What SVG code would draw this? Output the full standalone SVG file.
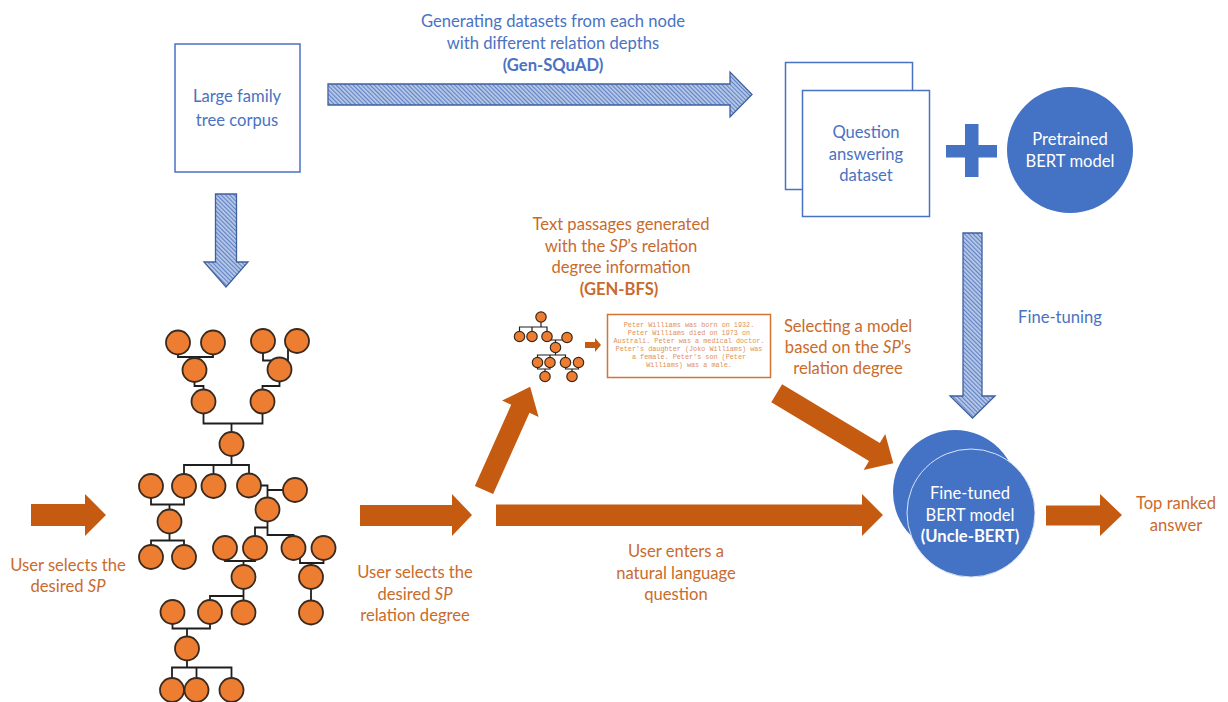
<svg xmlns="http://www.w3.org/2000/svg" width="1228" height="702" viewBox="0 0 1228 702">
<defs>
<pattern id="hatch" patternUnits="userSpaceOnUse" width="3" height="3" patternTransform="rotate(-45)">
<rect width="3" height="3" fill="#B9CBEA"/>
<line x1="0.6" y1="0" x2="0.6" y2="3" stroke="#5B7DC0" stroke-width="1.1"/>
</pattern>
<style>
.t{font-family:Lato,"Open Sans","Liberation Sans",sans-serif;font-size:16.6px;text-anchor:middle}
.blue{fill:#4A72C2}
.or{fill:#C96B2C}
.wh{fill:#FFFFFF}
.b{font-weight:bold}
.box{fill:#FFFFFF;stroke:#4A72C2;stroke-width:1.5}
.hat{fill:url(#hatch);stroke:#3F609E;stroke-width:1.3}
.oarr{fill:#C55A11}
.nd{fill:#ED7D31;stroke:#3A2A1E;stroke-width:1.8}
.sn{fill:#ED7D31;stroke:#3A2A1E;stroke-width:1.2}
.ln{fill:none;stroke:#1E1E1E;stroke-width:1.8}
.sl{fill:none;stroke:#1E1E1E;stroke-width:1.2}
.mono{font-family:"Liberation Mono",monospace;font-size:6.8px;fill:#E0915A;text-anchor:middle}
</style>
</defs>
<rect width="1228" height="702" fill="#FFFFFF"/>

<g id="connectors">
<polygon class="hat" points="328,84 730,84 730,72 752,94.5 730,117 730,105 328,105"/>
<polygon class="hat" points="215.5,194 236.5,194 236.5,262 248,262 226,287 204,262 215.5,262"/>
<polygon class="hat" points="963,233 982,233 982,396 995,396 972.5,418 950,396 963,396"/>
<polygon class="oarr" points="31,504 85,504 85,494 106,515 85,536 85,526 31,526"/>
<polygon class="oarr" points="360,505 452,505 452,494 472,515 452,536 452,526 360,526"/>
<polygon class="oarr" points="496,504.5 862,504.5 862,494 883,515 862,536 862,526 496,526"/>
<polygon class="oarr" points="1046,505.5 1100,505.5 1100,494 1122,515 1100,536 1100,525.5 1046,525.5"/>
<polygon class="oarr" transform="translate(484,490) rotate(-65.9)" points="0,-10 89,-10 89,-20 113,0 89,20 89,10 0,10"/>
<polygon class="oarr" transform="translate(776.7,393.3) rotate(31)" points="0,-10.5 114,-10.5 114,-21 136,0 114,21 114,10.5 0,10.5"/>
<polygon class="oarr" points="585,342 595,342 595,338 601,345 595,352 595,348 585,348"/>
</g>

<g id="label-gen-squad">
<text class="t blue" x="553" y="27">Generating datasets from each node</text>
<text class="t blue" x="553" y="49">with different relation depths</text>
<text class="t blue b" x="553" y="71">(Gen-SQuAD)</text>
</g>

<g id="corpus">
<rect class="box" x="175" y="44" width="125" height="128"/>
<text class="t blue" x="237" y="102">Large family</text>
<text class="t blue" x="237" y="126">tree corpus</text>
</g>

<g id="qa-dataset">
<rect class="box" x="785.5" y="62.5" width="127" height="127"/>
<rect class="box" x="802.5" y="90.5" width="127" height="126"/>
<text class="t blue" x="866" y="138">Question</text>
<text class="t blue" x="866" y="160">answering</text>
<text class="t blue" x="866" y="181">dataset</text>
</g>

<g id="plus">
<rect x="946" y="145" width="51" height="12.5" fill="#4472C4"/>
<rect x="965" y="124" width="13.5" height="53" fill="#4472C4"/>
</g>

<g id="pretrained-bert">
<circle cx="1070" cy="150" r="63" fill="#4472C4"/>
<text class="t wh" x="1070" y="145">Pretrained</text>
<text class="t wh" x="1070" y="167">BERT model</text>
</g>

<g id="label-fine-tuning">
<text class="t blue" x="1060" y="323">Fine-tuning</text>
</g>

<g id="family-tree">
<path class="ln" d="M178,342 V357 H213 V342 M194.5,357 V370"/>
<path class="ln" d="M263,341 V360.5 H288 V341 M279.5,360.5 V369"/>
<path class="ln" d="M194.5,370 V386 H203.5 V401 M279.5,369.5 V386 H262.5 V401"/>
<path class="ln" d="M203.5,401.5 V423.5 H262.5 V401.5 M231.5,423.5 V444"/>
<path class="ln" d="M231.5,444 V465 M184,486 V465 H249 V486 M213.5,465 V486"/>
<path class="ln" d="M151,486 V504.5 H184 V486 M169.5,504.5 V521.5"/>
<path class="ln" d="M249,485.5 H267.5 V490 H295 M267.5,490 V509.5"/>
<path class="ln" d="M169.5,521.5 V540.5 M151,557 V540.5 H184 V557"/>
<path class="ln" d="M267.5,509.5 V535 H293.5 V548 M267.5,527.5 H255 V548"/>
<path class="ln" d="M225,548 V561 H255 V548 M243.5,561 V577"/>
<path class="ln" d="M300,548 V563 H323.5 V548 M311,563 V577"/>
<path class="ln" d="M243.5,577 V612.5 M243.5,596 H210 V612"/>
<path class="ln" d="M311,577 V612.5"/>
<path class="ln" d="M172.5,612 V628.5 H210 V612 M187,628.5 V648.5"/>
<path class="ln" d="M187,648.5 V667.5 M172,690 V667.5 H231.5 V690 M196.5,667.5 V690"/>
<circle class="nd" cx="178" cy="342.5" r="12"/>
<circle class="nd" cx="213" cy="342.5" r="12"/>
<circle class="nd" cx="263" cy="341" r="12"/>
<circle class="nd" cx="297" cy="341" r="12"/>
<circle class="nd" cx="194.5" cy="370" r="12"/>
<circle class="nd" cx="279.5" cy="369.5" r="12"/>
<circle class="nd" cx="203.5" cy="401.5" r="12"/>
<circle class="nd" cx="262.5" cy="401.5" r="12"/>
<circle class="nd" cx="231.5" cy="444" r="12"/>
<circle class="nd" cx="151" cy="486" r="12"/>
<circle class="nd" cx="184" cy="486" r="12"/>
<circle class="nd" cx="213.5" cy="486" r="12"/>
<circle class="nd" cx="249" cy="485.5" r="12"/>
<circle class="nd" cx="295" cy="490" r="12"/>
<circle class="nd" cx="169.5" cy="521.5" r="12"/>
<circle class="nd" cx="267.5" cy="509.5" r="12"/>
<circle class="nd" cx="151" cy="557" r="12"/>
<circle class="nd" cx="184" cy="557" r="12"/>
<circle class="nd" cx="225" cy="548" r="12"/>
<circle class="nd" cx="255" cy="548" r="12"/>
<circle class="nd" cx="293.5" cy="548" r="12"/>
<circle class="nd" cx="323.5" cy="548" r="12"/>
<circle class="nd" cx="243.5" cy="577" r="12"/>
<circle class="nd" cx="311" cy="577" r="12"/>
<circle class="nd" cx="172.5" cy="612" r="12"/>
<circle class="nd" cx="210" cy="612" r="12"/>
<circle class="nd" cx="243.5" cy="612.5" r="12"/>
<circle class="nd" cx="311" cy="612.5" r="12"/>
<circle class="nd" cx="187" cy="648.5" r="12"/>
<circle class="nd" cx="172" cy="690" r="12"/>
<circle class="nd" cx="196.5" cy="690" r="12"/>
<circle class="nd" cx="231.5" cy="690" r="12"/>
</g>

<g id="small-tree">
<path class="sl" d="M541,317 V327 M519.5,336.5 V327 H547 V336.5 M532,327 V336.5"/>
<path class="sl" d="M547,336.5 V340 H567 M555.5,340 V347.5"/>
<path class="sl" d="M555.5,347.5 V355 M537.5,362.5 V355 H565.5 V362.5 M550,355 V362.5"/>
<path class="sl" d="M537.5,362.5 V369 H550 V362.5 M545,369 V376.5"/>
<path class="sl" d="M565.5,362.5 V369 H578.5 V362.5 M572,369 V376.5"/>
<circle class="sn" cx="541" cy="317" r="5.2"/>
<circle class="sn" cx="519.5" cy="336.5" r="5.2"/>
<circle class="sn" cx="532" cy="336.5" r="5.2"/>
<circle class="sn" cx="547" cy="336.5" r="5.2"/>
<circle class="sn" cx="567" cy="337.5" r="5.2"/>
<circle class="sn" cx="555.5" cy="347.5" r="5.2"/>
<circle class="sn" cx="537.5" cy="362.5" r="5.2"/>
<circle class="sn" cx="550" cy="362.5" r="5.2"/>
<circle class="sn" cx="565.5" cy="362.5" r="5.2"/>
<circle class="sn" cx="578.5" cy="362.5" r="5.2"/>
<circle class="sn" cx="545" cy="376.5" r="5.2"/>
<circle class="sn" cx="572" cy="376.5" r="5.2"/>
</g>

<g id="passage-box">
<rect x="607.5" y="314.5" width="163" height="63" fill="#FFFFFF" stroke="#D27433" stroke-width="1.5"/>
<text class="mono" x="689" y="327">Peter Williams was born on 1932.</text>
<text class="mono" x="689" y="335">Peter Williams died on 1973 on</text>
<text class="mono" x="689" y="343">Australi. Peter was a medical doctor.</text>
<text class="mono" x="689" y="351">Peter's daughter (Joko Williams) was</text>
<text class="mono" x="689" y="359">a female. Peter's son (Peter</text>
<text class="mono" x="689" y="367">Williams) was a male.</text>
</g>

<g id="label-gen-bfs">
<text class="t or" x="621" y="230">Text passages generated</text>
<text class="t or" x="621" y="252">with the <tspan font-style="italic">SP</tspan>’s relation</text>
<text class="t or" x="621" y="273">degree information</text>
<text class="t or b" x="619" y="295">(GEN-BFS)</text>
</g>

<g id="label-select-model">
<text class="t or" x="848" y="332">Selecting a model</text>
<text class="t or" x="848" y="353">based on the <tspan font-style="italic">SP</tspan>’s</text>
<text class="t or" x="848" y="374">relation degree</text>
</g>

<g id="label-select-sp">
<text class="t or" x="68" y="571">User selects the</text>
<text class="t or" x="68" y="592">desired <tspan font-style="italic">SP</tspan></text>
</g>

<g id="label-select-degree">
<text class="t or" x="415" y="578">User selects the</text>
<text class="t or" x="415" y="600">desired <tspan font-style="italic">SP</tspan></text>
<text class="t or" x="415" y="621">relation degree</text>
</g>

<g id="label-question">
<text class="t or" x="676" y="557">User enters a</text>
<text class="t or" x="676" y="579">natural language</text>
<text class="t or" x="676" y="600">question</text>
</g>

<g id="uncle-bert">
<circle cx="955" cy="492" r="62" fill="#4472C4"/>
<circle cx="971" cy="513" r="64" fill="#4472C4" stroke="#DCE4F4" stroke-width="1"/>
<text class="t wh" x="970" y="499">Fine-tuned</text>
<text class="t wh" x="970" y="521">BERT model</text>
<text class="t wh b" x="970" y="542">(Uncle-BERT)</text>
</g>

<g id="answer">
<text class="t or" x="1176" y="509">Top ranked</text>
<text class="t or" x="1176" y="531">answer</text>
</g>
</svg>
